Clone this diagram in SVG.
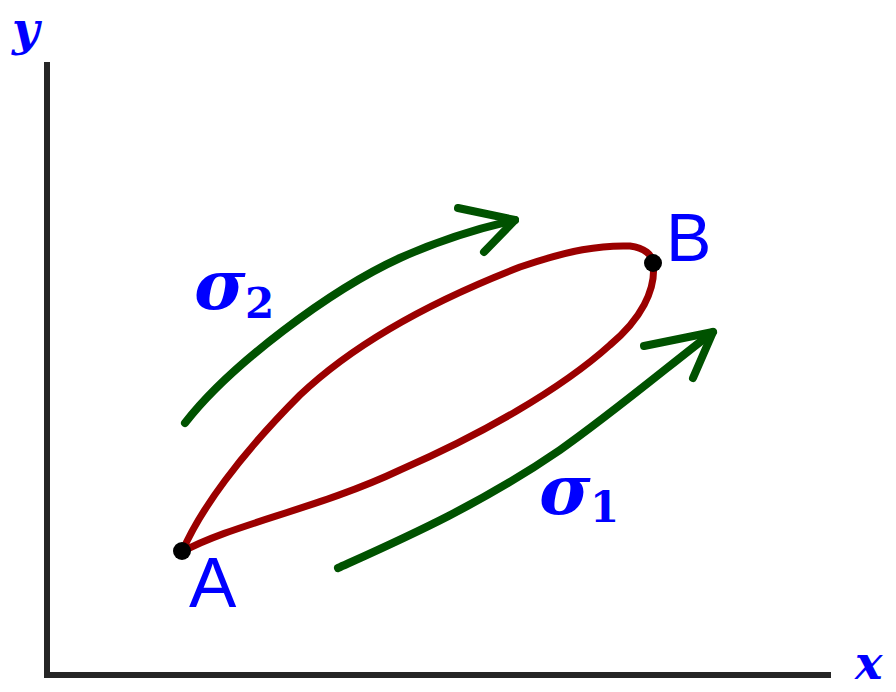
<svg xmlns="http://www.w3.org/2000/svg" width="896" height="692" viewBox="0 0 896 692">
<style>
.axis{stroke:#262626;stroke-width:6;fill:none;stroke-linecap:butt}
.path{stroke:#9b0000;stroke-width:7;fill:none;stroke-linecap:round;stroke-linejoin:round}
.arr{stroke:#005200;stroke-width:8;fill:none;stroke-linecap:round;stroke-linejoin:round}
.pt{fill:#000}
.lbl{font-family:"Liberation Sans",Arial,sans-serif;fill:#0000ff}
.math{font-family:"DejaVu Serif","Liberation Serif",serif;fill:#0000ff;font-weight:bold;font-style:italic}
.sub{font-family:"DejaVu Serif","Liberation Serif",serif;fill:#0000ff;font-weight:bold}
</style>
<rect width="896" height="692" fill="#fff"/>
<g id="axes">
<path class="axis" d="M47,62 V675 H831"/>
<text class="math" x="12" y="45" font-size="47">y</text>
<text class="math" x="855" y="679" font-size="46">x</text>
</g>
<g id="connectors">
<path id="loop" class="path" d="M182,552 C200,510 240,455 300,395 C360,338 440,298 520,267 C570,250 600,245 630,246 C645,248 652,255 653,262 C657,290 640,320 610,345 C560,390 480,435 400,470 C320,508 230,525 182,552"/>
<g id="sigma2-arrow">
<path class="arr" d="M185,423 C230,365 330,290 400,258 C440,240 480,228 515,220"/>
<path class="arr" d="M458,208 L515,220 L484,252"/>
</g>
<g id="sigma1-arrow">
<path class="arr" d="M338,568 C400,540 480,505 560,450 C610,415 670,365 713,332"/>
<path class="arr" d="M644,346 L713,332 L693,378"/>
</g>
</g>
<g id="node-A">
<circle class="pt" cx="182" cy="551" r="9"/>
<text class="lbl" x="189" y="607" font-size="71">A</text>
</g>
<g id="node-B">
<circle class="pt" cx="653" cy="263" r="9"/>
<text class="lbl" x="666" y="261" font-size="68">B</text>
</g>
<g id="label-sigma2">
<text class="math" x="194" y="309" font-size="70">σ</text>
<text class="sub" x="245" y="318" font-size="42">2</text>
</g>
<g id="label-sigma1">
<text class="math" x="539" y="514" font-size="70">σ</text>
<text class="sub" x="590" y="522" font-size="42">1</text>
</g>
</svg>
